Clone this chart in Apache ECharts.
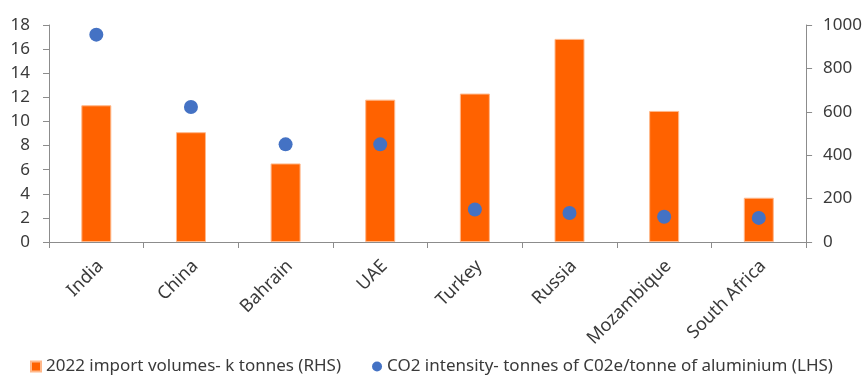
<!DOCTYPE html>
<html>
<head>
<meta charset="utf-8">
<script src="https://cdn.jsdelivr.net/npm/echarts@6/dist/echarts.min.js"></script>
<style>
  html, body { margin: 0; padding: 0; background: #fff; }
  #chart { width: 865px; height: 376px; }
</style>
</head>
<body>
<div id="chart"></div>
<script>
// Aluminium imports by origin country
const countries = ['India', 'China', 'Bahrain', 'UAE', 'Turkey', 'Russia', 'Mozambique', 'South Africa'];
// 2022 import volumes, k tonnes (right axis)
const importVolumes = [630, 506, 362, 656, 684, 936, 604, 204];
// CO2 intensity, tonnes CO2e per tonne of aluminium (left axis)
const co2Intensity = [17.2, 11.2, 8.1, 8.1, 2.7, 2.4, 2.1, 2.0];

const barName = '2022 import volumes- k tonnes (RHS)';
const dotName = 'CO2 intensity- tonnes of C02e/tonne of aluminium (LHS)';

const textColor = '#3a3a3a';
const axisColor = '#8c8c8c';
const fontFamily = '"Noto Sans", "Open Sans", sans-serif';

const chart = echarts.init(document.getElementById('chart'));
chart.setOption({
  animation: false,
  textStyle: { fontFamily: fontFamily, color: textColor },
  grid: { left: 49, right: 58, top: 25, bottom: 134 },
  legend: {
    left: 25,
    top: 353,
    itemGap: 31,
    itemWidth: 10,
    itemHeight: 10,
    textStyle: { fontSize: 17, color: textColor, fontFamily: fontFamily },
    data: [
      { name: barName, icon: 'rect' },
      { name: dotName, icon: 'circle' }
    ]
  },
  xAxis: {
    type: 'category',
    data: countries,
    axisLine: { lineStyle: { color: axisColor, width: 1 } },
    axisTick: { show: true, length: 6, lineStyle: { color: axisColor } },
    axisLabel: {
      rotate: 45, fontSize: 18, color: textColor, margin: 17, interval: 0,
      verticalAlign: 'top', lineHeight: 12
    }
  },
  yAxis: [
    {
      type: 'value',
      min: 0, max: 18, interval: 2,
      position: 'left',
      axisLine: { show: true, lineStyle: { color: axisColor } },
      axisTick: { show: true, length: 6, lineStyle: { color: axisColor } },
      axisLabel: { fontSize: 17, color: textColor, margin: 19 },
      splitLine: { show: false }
    },
    {
      type: 'value',
      min: 0, max: 1000, interval: 200,
      position: 'right',
      axisLine: { show: true, lineStyle: { color: axisColor } },
      axisTick: { show: true, length: 6, lineStyle: { color: axisColor } },
      axisLabel: { fontSize: 17, color: textColor, margin: 17, formatter: function (v) { return String(v); } },
      splitLine: { show: false }
    }
  ],
  series: [
    {
      name: barName,
      type: 'bar',
      yAxisIndex: 1,
      data: importVolumes,
      barWidth: 30,
      itemStyle: { color: '#ff6200', borderColor: '#ffb88a', borderWidth: 1 }
    },
    {
      name: dotName,
      type: 'scatter',
      yAxisIndex: 0,
      data: co2Intensity,
      symbol: 'circle',
      symbolSize: 14,
      itemStyle: { color: '#4472c4', opacity: 1 }
    }
  ]
});
</script>
</body>
</html>
